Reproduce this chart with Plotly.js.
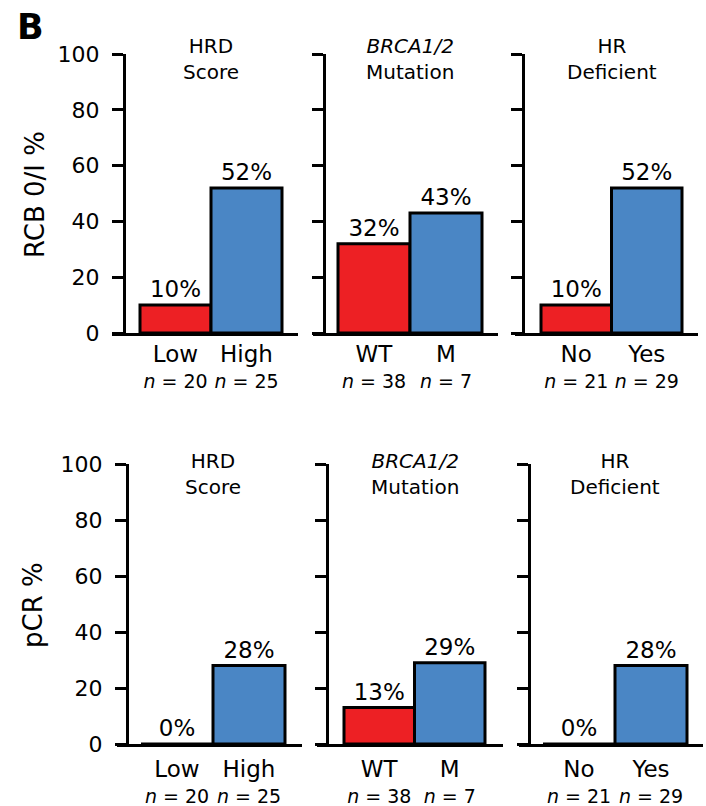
<!DOCTYPE html>
<html>
<head>
<meta charset="utf-8">
<script src="https://cdn.plot.ly/plotly-3.0.1.min.js"></script>
<style>html,body{margin:0;padding:0;background:#fff;}#chart{width:706px;height:806px;}</style>
</head>
<body>
<div id="chart"></div>
<script>
// ---- data ----
const panelTitles = ['HRD<br>Score', '<i>BRCA1/2</i><br>Mutation', 'HR<br>Deficient'];
const categories = [['Low', 'High'], ['WT', 'M'], ['No', 'Yes']];
const nCounts = [[20, 25], [38, 7], [21, 29]];
const rcbValues = [10, 52, 32, 43, 10, 52];   // RCB 0/I %, panel by panel
const pcrValues = [0, 28, 13, 29, 0, 28];     // pCR %, panel by panel
const rowTitles = ['RCB 0/I %', 'pCR %'];
const yTickValues = [0, 20, 40, 60, 80, 100];
const panelLetter = 'B';

// ---- style / layout ----
const W = 706, H = 806;
const FONT = 'DejaVu Sans, Arial, sans-serif';
const barColors = ['#ED2024', '#4A86C5'];
// pixel geometry per panel: [leftEnd, yAxisX, barStart, unit, rightEnd]
const geom = [
  [[112, 124, 140, 71, 298], [313, 324, 338, 72, 498], [515, 523, 541, 70.5, 698]],
  [[117, 127, 141, 72, 302], [317, 327, 344, 70.5, 503], [519, 529, 543, 72, 703]]
];
const rowY = [[333, 54], [744, 464]];      // pixel y of 0 and 100
const titleCenterY = [59, 473.5];
const rowTitlePos = [[35, 195], [33, 605]];
const xLabelStandoff = [2, 6];

const rowValues = [rcbValues, pcrValues];
const traces = [];
const layout = {
  width: W, height: H,
  margin: {l: 0, r: 0, t: 0, b: 0},
  paper_bgcolor: '#fff', plot_bgcolor: 'rgba(0,0,0,0)',
  showlegend: false,
  bargap: 0,
  font: {family: FONT, color: '#000', size: 21},
  annotations: []
};

for (let r = 0; r < 2; r++) {
  for (let p = 0; p < 3; p++) {
    const k = r * 3 + p + 1;
    const xs = k === 1 ? '' : String(k);
    const [leftEnd, axisX, barStart, unit, rightEnd] = geom[r][p];
    const center0 = barStart + unit / 2;
    const cats = categories[p];
    const vals = rowValues[r].slice(p * 2, p * 2 + 2);
    traces.push({
      type: 'bar',
      x: cats,
      y: vals,
      xaxis: 'x' + xs,
      yaxis: 'y' + xs,
      width: 1,
      marker: {color: barColors, line: {color: '#000', width: 3}},
      text: vals.map(v => v + '%'),
      textposition: 'outside',
      textfont: {family: FONT, size: 23, color: '#000'},
      cliponaxis: false,
      hoverinfo: 'skip'
    });
    layout['xaxis' + xs] = {
      domain: [leftEnd / W, rightEnd / W],
      anchor: 'y' + xs,
      type: 'category',
      range: [(leftEnd - center0) / unit, (rightEnd - center0) / unit],
      showline: true, linewidth: 3, linecolor: '#000',
      ticks: '', showgrid: false, zeroline: false,
      tickvals: cats,
      ticktext: cats.map((c, i) => '<span style="font-size:23px">' + c + '</span><br><span style="font-size:19px"><i>n</i> = ' + nCounts[p][i] + '</span>'),
      tickfont: {family: FONT, size: 20, color: '#000'},
      ticklabelstandoff: xLabelStandoff[r],
      fixedrange: true
    };
    layout['yaxis' + xs] = {
      domain: [1 - rowY[r][0] / H, 1 - rowY[r][1] / H],
      anchor: 'free',
      position: axisX / W,
      range: [0, 100],
      tickvals: yTickValues,
      ticks: 'outside', ticklen: 11, tickwidth: 3, tickcolor: '#000',
      showline: true, linewidth: 3, linecolor: '#000',
      showgrid: false, zeroline: false,
      showticklabels: p === 0,
      tickfont: {family: FONT, size: 22, color: '#000'},
      ticklabelstandoff: 8,
      fixedrange: true
    };
    layout.annotations.push({
      xref: 'x' + xs, yref: 'paper',
      x: 0.5, y: 1 - titleCenterY[r] / H,
      xanchor: 'center', yanchor: 'middle',
      text: panelTitles[p], showarrow: false,
      font: {family: FONT, size: 20, color: '#000'}
    });
  }
  layout.annotations.push({
    xref: 'paper', yref: 'paper',
    x: rowTitlePos[r][0] / W, y: 1 - rowTitlePos[r][1] / H,
    xanchor: 'center', yanchor: 'middle', textangle: -90,
    text: rowTitles[r], showarrow: false,
    font: {family: FONT, size: 26, color: '#000'}
  });
}
layout.annotations.push({
  xref: 'paper', yref: 'paper', x: 15 / W, y: 1 - 5 / H,
  xanchor: 'left', yanchor: 'top',
  text: '<b>' + panelLetter + '</b>', showarrow: false,
  font: {family: 'DejaVu Sans, Arial, sans-serif', size: 35, color: '#000'}
});

Plotly.newPlot('chart', traces, layout, {displayModeBar: false, staticPlot: true});
</script>
</body>
</html>
